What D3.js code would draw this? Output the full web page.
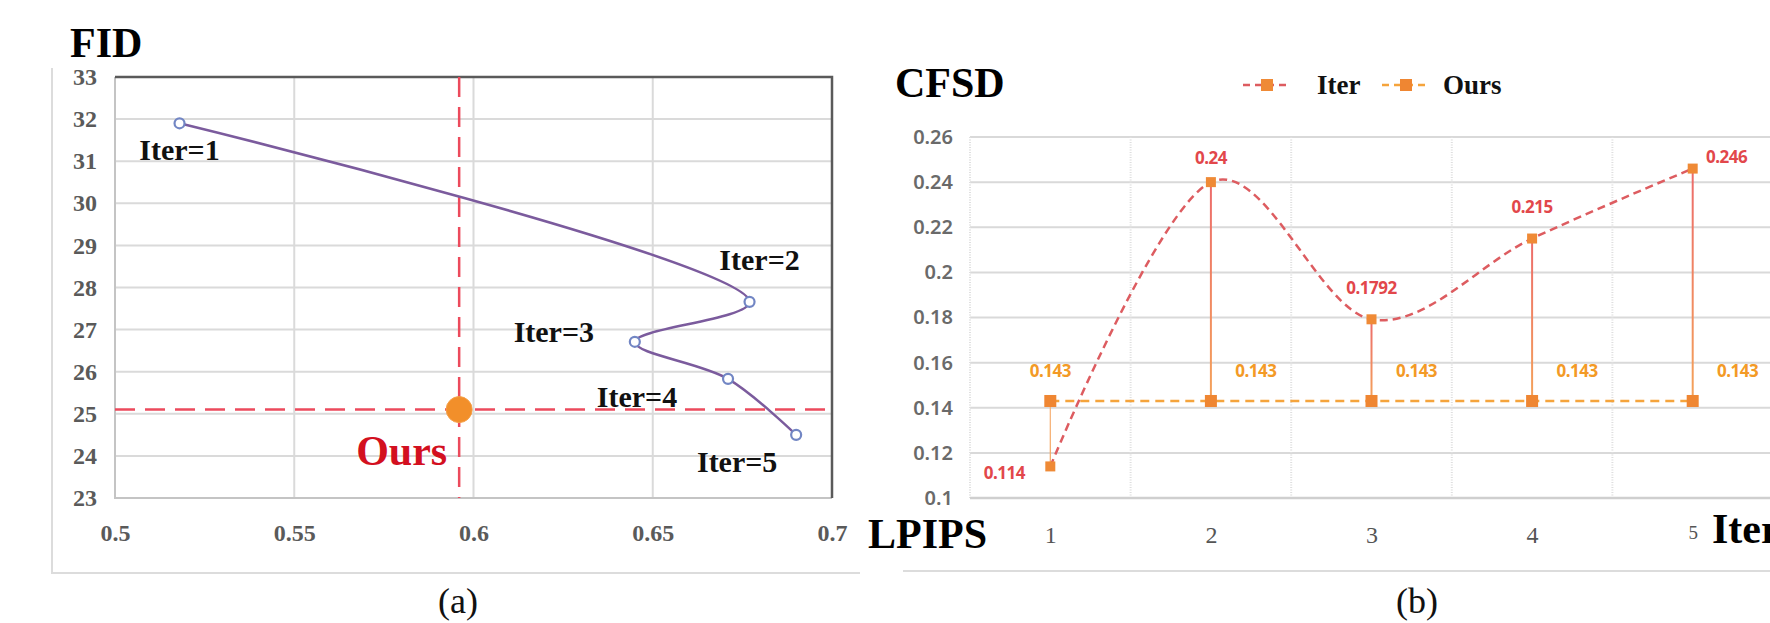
<!DOCTYPE html>
<html>
<head>
<meta charset="utf-8">
<script src="https://cdn.jsdelivr.net/npm/d3@7"></script>
<style>
  html, body { margin: 0; padding: 0; background: #fff; }
  svg { display: block; }
</style>
</head>
<body>
<svg id="chart" width="1770" height="623"></svg>
<script>
// ---------------- DATA ----------------
// (a) FID vs LPIPS
const iterNames = ["Iter=1", "Iter=2", "Iter=3", "Iter=4", "Iter=5"];
const iterLpips = [0.518, 0.677, 0.645, 0.671, 0.690];
const iterFid = [31.9, 27.66, 26.71, 25.83, 24.5];
const oursLpips = [0.596];
const oursFid = [25.1];
const xTicksA = [0.5, 0.55, 0.6, 0.65, 0.7];
const yTicksA = [23, 24, 25, 26, 27, 28, 29, 30, 31, 32, 33];

// (b) CFSD per iteration
const categoriesB = ["1", "2", "3", "4", "5"];
const iterCfsd = [0.114, 0.24, 0.1792, 0.215, 0.246];
const oursCfsd = [0.143, 0.143, 0.143, 0.143, 0.143];
const iterCfsdLabels = ["0.114", "0.24", "0.1792", "0.215", "0.246"];
const oursCfsdLabels = ["0.143", "0.143", "0.143", "0.143", "0.143"];
const yTicksB = [0.1, 0.12, 0.14, 0.16, 0.18, 0.2, 0.22, 0.24, 0.26];
const legendNames = ["Iter", "Ours"];

// ---------------- LAYOUT ----------------
const svg = d3.select("#chart");
const SERIF = "'Liberation Serif', 'Times New Roman', serif";
const SANS = "'Noto Sans', 'Open Sans', sans-serif";

// ===== Chart (a) =====
const A = { left: 115, right: 832, top: 77, bottom: 498 };
const xA = d3.scaleLinear().domain([0.5, 0.7]).range([A.left, A.right]);
const yA = d3.scaleLinear().domain([23, 33]).range([A.bottom, A.top]);

const gA = svg.append("g");

// outer chart-area frame (left & bottom visible)
gA.append("path").attr("d", "M52,68 V573 H860")
  .attr("fill", "none").attr("stroke", "#dcdcdc").attr("stroke-width", 2);

// gridlines
gA.append("g").selectAll("line").data(yTicksA.slice(1, -1)).join("line")
  .attr("x1", A.left).attr("x2", A.right)
  .attr("y1", d => yA(d)).attr("y2", d => yA(d))
  .attr("stroke", "#dadada").attr("stroke-width", 2);
gA.append("g").selectAll("line").data(xTicksA.slice(1, -1)).join("line")
  .attr("x1", d => xA(d)).attr("x2", d => xA(d))
  .attr("y1", A.top).attr("y2", A.bottom)
  .attr("stroke", "#dadada").attr("stroke-width", 2);

// plot borders
gA.append("path").attr("d", `M${A.left},${A.top} V${A.bottom} H${A.right}`)
  .attr("fill", "none").attr("stroke", "#c4c4c4").attr("stroke-width", 2);
gA.append("path").attr("d", `M${A.left},${A.top} H${A.right} V${A.bottom}`)
  .attr("fill", "none").attr("stroke", "#5a5a5a").attr("stroke-width", 2.5);

// axes tick labels
const axisYA = d3.axisLeft(yA).tickValues(yTicksA).tickSize(0).tickPadding(18).tickFormat(d3.format("d"));
const gyA = gA.append("g").attr("transform", `translate(${A.left},0)`).call(axisYA);
gyA.select(".domain").remove();
gyA.selectAll("text").attr("font-family", SERIF).attr("font-weight", "bold")
  .attr("font-size", 24).attr("fill", "#5a5a5a");

const axisXA = d3.axisBottom(xA).tickValues(xTicksA).tickSize(0).tickPadding(26).tickFormat(d => String(d));
const gxA = gA.append("g").attr("transform", `translate(0,${A.bottom})`).call(axisXA);
gxA.select(".domain").remove();
gxA.selectAll("text").attr("font-family", SERIF).attr("font-weight", "bold")
  .attr("font-size", 24).attr("fill", "#5a5a5a");

// reference dashed lines through "Ours"
gA.append("line")
  .attr("x1", xA(oursLpips[0])).attr("x2", xA(oursLpips[0]))
  .attr("y1", A.top).attr("y2", A.bottom)
  .attr("stroke", "#ec4a5c").attr("stroke-width", 2.5).attr("stroke-dasharray", "20,10");
gA.append("line")
  .attr("x1", A.left).attr("x2", A.right)
  .attr("y1", yA(oursFid[0])).attr("y2", yA(oursFid[0]))
  .attr("stroke", "#ec4a5c").attr("stroke-width", 2.5).attr("stroke-dasharray", "20,10");

// Iter curve
const ptsA = iterLpips.map((v, i) => [xA(v), yA(iterFid[i])]);
gA.append("path").datum(ptsA)
  .attr("d", d3.line().curve(d3.curveCatmullRom.alpha(0.5)))
  .attr("fill", "none").attr("stroke", "#7b5b9d").attr("stroke-width", 2.5);
gA.append("g").selectAll("circle").data(ptsA).join("circle")
  .attr("cx", d => d[0]).attr("cy", d => d[1]).attr("r", 5)
  .attr("fill", "#fff").attr("stroke", "#7286c4").attr("stroke-width", 2.2);

// Iter labels
const labelOffA = [[0, 37], [10, -32], [-81, 0], [-91, 28], [-59, 37]];
gA.append("g").selectAll("text").data(iterNames).join("text")
  .attr("x", (d, i) => ptsA[i][0] + labelOffA[i][0])
  .attr("y", (d, i) => ptsA[i][1] + labelOffA[i][1])
  .attr("text-anchor", "middle")
  .attr("font-family", SERIF).attr("font-weight", "bold").attr("font-size", 30)
  .attr("fill", "#111").text(d => d);

// Ours dot
gA.append("circle")
  .attr("cx", xA(oursLpips[0])).attr("cy", yA(oursFid[0])).attr("r", 13)
  .attr("fill", "#f28f2a").attr("stroke", "#f5a048").attr("stroke-width", 1);
gA.append("text").attr("x", xA(oursLpips[0]) - 12).attr("y", yA(oursFid[0]) + 55)
  .attr("text-anchor", "end")
  .attr("font-family", SERIF).attr("font-weight", "bold").attr("font-size", 42)
  .attr("fill", "#d3101f").text("Ours");

// titles
gA.append("text").attr("x", 70).attr("y", 57)
  .attr("font-family", SERIF).attr("font-weight", "bold").attr("font-size", 42)
  .attr("fill", "#000").text("FID");
gA.append("text").attr("x", 458).attr("y", 613).attr("text-anchor", "middle")
  .attr("font-family", SERIF).attr("font-size", 36).attr("fill", "#111").text("(a)");

// ===== Chart (b) =====
const B = { left: 970, right: 1773, top: 137, bottom: 498 };
const xB = d3.scalePoint().domain(categoriesB).range([B.left, B.right]).padding(0.5);
const yB = d3.scaleLinear().domain([0.1, 0.26]).range([B.bottom, B.top]);
const stepB = xB.step();

const gB = svg.append("g");

// chart-area bottom frame
gB.append("line").attr("x1", 903).attr("x2", 1770).attr("y1", 571).attr("y2", 571)
  .attr("stroke", "#dcdcdc").attr("stroke-width", 2);

// horizontal gridlines
gB.append("g").selectAll("line").data(yTicksB.slice(1)).join("line")
  .attr("x1", B.left).attr("x2", 1770)
  .attr("y1", d => yB(d)).attr("y2", d => yB(d))
  .attr("stroke", "#d9d9d9").attr("stroke-width", 2);
// vertical dotted gridlines at category boundaries
gB.append("g").selectAll("line").data(categoriesB).join("line")
  .attr("x1", d => xB(d) - stepB / 2).attr("x2", d => xB(d) - stepB / 2)
  .attr("y1", B.top).attr("y2", B.bottom)
  .attr("stroke", "#dedede").attr("stroke-width", 2).attr("stroke-dasharray", "1,1.5");
// x-axis baseline
gB.append("line").attr("x1", B.left).attr("x2", 1770).attr("y1", B.bottom).attr("y2", B.bottom)
  .attr("stroke", "#cfcfcf").attr("stroke-width", 2.5);

// y tick labels
const axisYB = d3.axisLeft(yB).tickValues(yTicksB).tickSize(0).tickPadding(17).tickFormat(d => String(+d.toFixed(2)));
const gyB = gB.append("g").attr("transform", `translate(${B.left},0)`).call(axisYB);
gyB.select(".domain").remove();
gyB.selectAll("text").attr("font-family", SANS).attr("font-weight", 600)
  .attr("font-size", 20).attr("fill", "#6a6a6a");

// x tick labels
const axisXB = d3.axisBottom(xB).tickSize(0).tickPadding(28);
const gxB = gB.append("g").attr("transform", `translate(0,${B.bottom})`).call(axisXB);
gxB.select(".domain").remove();
gxB.selectAll("text").attr("font-family", SERIF)
  .attr("font-size", (d, i) => i === categoriesB.length - 1 ? 19 : 24).attr("fill", "#555");

// drop lines between series (gradient red -> orange)
const defs = svg.append("defs");
categoriesB.forEach((c, i) => {
  const g = defs.append("linearGradient").attr("id", "drop" + i)
    .attr("gradientUnits", "userSpaceOnUse")
    .attr("x1", xB(c)).attr("x2", xB(c))
    .attr("y1", yB(Math.max(iterCfsd[i], oursCfsd[i])))
    .attr("y2", yB(Math.min(iterCfsd[i], oursCfsd[i])));
  g.append("stop").attr("offset", "0%").attr("stop-color", iterCfsd[i] > oursCfsd[i] ? "#ec6b6b" : "#f6b27a");
  g.append("stop").attr("offset", "100%").attr("stop-color", "#f4a35a");
});
gB.append("g").selectAll("line").data(categoriesB).join("line")
  .attr("x1", d => xB(d)).attr("x2", d => xB(d))
  .attr("y1", (d, i) => yB(iterCfsd[i])).attr("y2", (d, i) => yB(oursCfsd[i]))
  .attr("stroke", (d, i) => `url(#drop${i})`)
  .attr("stroke-width", (d, i) => iterCfsd[i] > oursCfsd[i] ? 2 : 1.2);

// Ours line
const ptsOurs = categoriesB.map((c, i) => [xB(c), yB(oursCfsd[i])]);
gB.append("path").datum(ptsOurs).attr("d", d3.line())
  .attr("fill", "none").attr("stroke", "#f5a43c").attr("stroke-width", 2.5)
  .attr("stroke-dasharray", "9,6");

// Iter line
const ptsIter = categoriesB.map((c, i) => [xB(c), yB(iterCfsd[i])]);
gB.append("path").datum(ptsIter).attr("d", d3.line().curve(d3.curveCardinal.tension(0)))
  .attr("fill", "none").attr("stroke", "#dd5c60").attr("stroke-width", 2.5)
  .attr("stroke-dasharray", "8,5");

// markers
gB.append("g").selectAll("rect").data(ptsOurs).join("rect")
  .attr("x", d => d[0] - 6).attr("y", d => d[1] - 6).attr("width", 12).attr("height", 12)
  .attr("fill", "#ef8632");
gB.append("g").selectAll("rect").data(ptsIter).join("rect")
  .attr("x", d => d[0] - 5).attr("y", d => d[1] - 5).attr("width", 10).attr("height", 10)
  .attr("fill", "#ef8a36");

// data labels
const iterLabOff = [[-46, 6], [0, -25], [0, -32], [0, -32], [34, -12]];
gB.append("g").selectAll("text").data(iterCfsdLabels).join("text")
  .attr("x", (d, i) => ptsIter[i][0] + iterLabOff[i][0])
  .attr("y", (d, i) => ptsIter[i][1] + iterLabOff[i][1])
  .attr("text-anchor", "middle").attr("dominant-baseline", "central")
  .attr("font-family", SANS).attr("font-weight", "bold").attr("font-size", 17)
  .attr("letter-spacing", -0.5)
  .attr("fill", "#e2474b").text(d => d);
const oursLabOff = [[0, -30], [45, -30], [45, -30], [45, -30], [45, -30]];
gB.append("g").selectAll("text").data(oursCfsdLabels).join("text")
  .attr("x", (d, i) => ptsOurs[i][0] + oursLabOff[i][0])
  .attr("y", (d, i) => ptsOurs[i][1] + oursLabOff[i][1])
  .attr("text-anchor", "middle").attr("dominant-baseline", "central")
  .attr("font-family", SANS).attr("font-weight", "bold").attr("font-size", 17)
  .attr("letter-spacing", -0.5)
  .attr("fill", "#f39a26").text(d => d);

// legend
const legend = gB.append("g");
const legendColors = [["#dd5c60", "#ef8a36"], ["#f5a43c", "#ef8632"]];
const legendX = [1243, 1382];
legendNames.forEach((name, i) => {
  const lx = legendX[i];
  const lg = legend.append("g").attr("transform", `translate(${lx},85)`);
  lg.append("line").attr("x1", 0).attr("x2", 48).attr("y1", 0).attr("y2", 0)
    .attr("stroke", legendColors[i][0]).attr("stroke-width", 2.5).attr("stroke-dasharray", "7,5");
  lg.append("rect").attr("x", 18).attr("y", -6).attr("width", 12).attr("height", 12)
    .attr("fill", legendColors[i][1]);
  lg.append("text").attr("x", i === 0 ? 74 : 61).attr("y", 9)
    .attr("font-family", SERIF).attr("font-weight", "bold").attr("font-size", 27)
    .attr("fill", "#111").text(name);
});

// titles
gB.append("text").attr("x", 895).attr("y", 97)
  .attr("font-family", SERIF).attr("font-weight", "bold").attr("font-size", 42)
  .attr("fill", "#000").text("CFSD");
gB.append("text").attr("x", 868).attr("y", 548)
  .attr("font-family", SERIF).attr("font-weight", "bold").attr("font-size", 42)
  .attr("fill", "#000").text("LPIPS");
gB.append("text").attr("x", 1712).attr("y", 543)
  .attr("font-family", SERIF).attr("font-weight", "bold").attr("font-size", 42)
  .attr("fill", "#000").text("Iter");
gB.append("text").attr("x", 1417).attr("y", 613).attr("text-anchor", "middle")
  .attr("font-family", SERIF).attr("font-size", 36).attr("fill", "#111").text("(b)");
</script>
</body>
</html>
